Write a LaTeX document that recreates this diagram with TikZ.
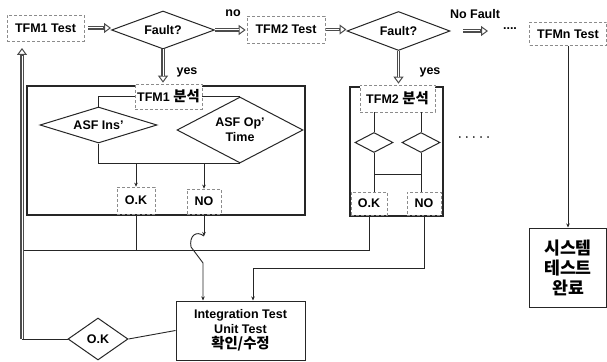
\documentclass[tikz,border=0pt]{standalone}
\usepackage{fontspec}
\setmainfont{Liberation Sans}
\newfontfamily\kr{Noto Sans CJK KR}[Scale=1.15]
\usetikzlibrary{shapes.geometric,arrows.meta}
\begin{document}
\begin{tikzpicture}[x=1pt,y=-1pt,
  every node/.style={font=\fontsize{12.5}{15}\selectfont\bfseries, inner sep=0pt},
  lbox/.style={draw=black!45, densely dashed, fill=white, line width=0.7pt},
  dia/.style={diamond, draw=black!85, line width=1pt, fill=white},
  ln/.style={draw=black!85, line width=0.9pt},
  frame/.style={draw=black!85, line width=1.3pt},
  harrow/.style={draw=black!70, line width=3.4pt, -{Triangle[open,length=7pt,width=10pt,line width=1pt]},
    postaction={draw=white, line width=1pt, -, shorten >=8pt}},
  sarr/.style={ln, -{Stealth[length=4pt,width=3.5pt]}},
  lab/.style={font=\fontsize{12.5}{14}\selectfont\bfseries}
]
\fill[white] (0,0) rectangle (607,361);
\useasboundingbox (0,0) rectangle (607,361);

% frames
\draw[frame] (27,86) rectangle (305,215);
\draw[frame] (350,87) rectangle (443,216);

% top row
\node[lbox, minimum width=77pt, minimum height=26pt] (t1) at (45.5,28) {TFM1 Test};
\node[dia, aspect=2.7, minimum width=103pt, minimum height=38pt] (f1) at (163,30) {Fault?};
\node[lbox, minimum width=78pt, minimum height=27pt] (t2) at (286,29.5) {TFM2 Test};
\node[dia, aspect=2.6, minimum width=103pt, minimum height=39pt] (f2) at (398.5,31) {Fault?};
\node[lbox, minimum width=77pt, minimum height=23pt] (tn) at (568,34) {TFMn Test};

\node[lab] (nol) at (233,13) {no};
\node[lab] (nfl) at (475,14) {No Fault};
\node[lab] (dt1) at (510,29) {....};
\node[lab] (y1) at (187,72) {yes};
\node[lab] (y2) at (430,72) {yes};
\coordinate (nfa) at (463,31);
\coordinate (nfb) at (488,31);

% TFM1 analysis block
\node[lbox, minimum width=67pt, minimum height=25pt] (s1) at (168.5,96.5) {TFM1 {\kr 분석}};
\node[dia, aspect=3.25, minimum width=117pt, minimum height=36pt] (ai) at (98.5,125) {ASF Ins’};
\node[dia, aspect=1.9, minimum width=126pt, minimum height=66pt, align=center] (ao) at (240,130) {ASF Op’\\Time};
\node[lbox, minimum width=38pt, minimum height=27pt] (ok1) at (136,200.5) {O.K};
\node[lbox, minimum width=34pt, minimum height=25pt] (no1) at (204,201.5) {NO};

% TFM2 analysis block
\node[lbox, minimum width=75pt, minimum height=27pt] (s2) at (397.5,98.5) {TFM2 {\kr 분석}};
\node[dia, minimum width=38pt, minimum height=20pt] (sd1) at (374,142.5) {};
\node[dia, minimum width=38pt, minimum height=20pt] (sd2) at (421,142.5) {};
\node[lbox, minimum width=36pt, minimum height=23pt] (ok2) at (369,203.5) {O.K};
\node[lbox, minimum width=34pt, minimum height=23pt] (no2) at (424,203.5) {NO};
\node[lab] (dt2) at (474,138) {\fontsize{6}{6}\selectfont •\hspace{5pt}•\hspace{5pt}•\hspace{5pt}•\hspace{5pt}•};

% bottom
\node[draw=black!85, line width=1pt, fill=white, minimum width=129pt, minimum height=59pt, align=center] (it) at (240.5,330.5) {Integration Test\\Unit Test\\{\kr 확인/수정}};
\node[dia, aspect=1.43, minimum width=60pt, minimum height=42pt] (okd) at (98,339) {O.K};
\node[draw=black!85, line width=1pt, minimum width=77pt, minimum height=79pt, align=center, font=\fontsize{15}{20}\selectfont\bfseries\kr] (sys) at (568,267.5) {시스템\\테스트\\완료};

% hollow arrows
\draw[harrow, shorten <=4pt] (t1.east) -- (t1.east -| f1.west);
\draw[harrow, shorten >=1pt] (f1.east) -- (f1.east -| t2.west);
\draw[harrow, shorten <=1pt] (t2.east) -- (t2.east -| f2.west);
\draw[harrow] (nfa) -- (nfb);
\draw[harrow, shorten >=1pt] (f1.south) -- (f1.south |- s1.north);
\draw[harrow, shorten >=1pt] (f2.south) -- (f2.south |- s2.north);

% TFM1 inner connectors
\draw[ln] (s1.west) -| (ai.north);
\draw[ln] (s1.east) -| (ao.north);
\draw[ln] (ai.south) |- (ao.south);
\draw[sarr] (ok1.north |- ao.south) -- (ok1.north);
\draw[sarr] (no1.north |- ao.south) -- (no1.north);

% TFM2 inner connectors
\draw[ln] (s2.south -| sd1.north) -- (sd1.north);
\draw[ln] (s2.south -| sd2.north) -- (sd2.north);
\draw[ln] (sd1.south) -- (sd1.south |- ok2.north);
\draw[ln] (sd2.south) -- (sd2.south |- no2.north);
\coordinate (hb) at (374,174);
\draw[ln] (hb) -- (hb -| sd2.south);

% return lines
\coordinate (lj) at (22,250);
\coordinate (lb) at (22,339);
\coordinate (lt) at (22,48);
\draw[ln] (ok2.south) |- (lj);
\draw[ln] (ok1.south) -- (ok1.south |- lj);
\draw[ln] (it.west) -- (okd.east);
\draw[ln] (okd.west) -- (lb);
\draw[harrow] (lb) -- (lt);

% NO paths to integration test
\coordinate (h1) at (204,236);
\coordinate (h2) at (191,247);
\coordinate (h3) at (203,263);
\draw[sarr] (no1.south) -- (h1);
\draw[sarr] (h1) .. controls (196,230) and (189,236) .. (h2) -- (h3) -- (h3 |- it.north);
\coordinate (k2) at (253,268);
\draw[sarr] (no2.south) |- (k2) -- (k2 |- it.north);

% TFMn to system test
\draw[sarr] (tn.south) -- (sys.north);
\end{tikzpicture}
\end{document}
